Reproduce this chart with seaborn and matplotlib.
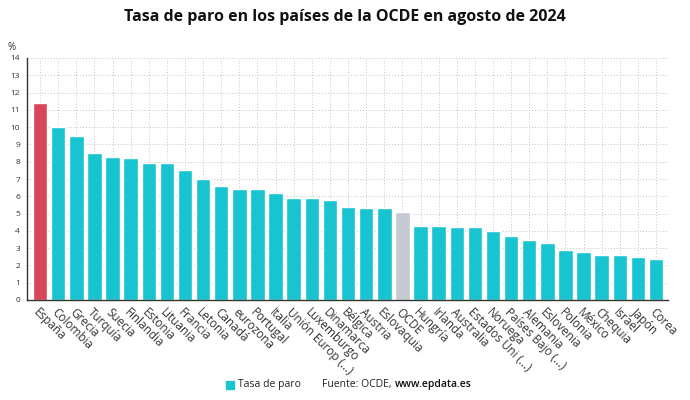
import numpy as np
import pandas as pd
import matplotlib
matplotlib.use("Agg")
import matplotlib.pyplot as plt
import seaborn as sns

# Datos
paises = ["España", "Colombia", "Grecia", "Turquía", "Suecia", "Finlandia", "Estonia",
          "Lituania", "Francia", "Letonia", "Canadá", "eurozona", "Portugal", "Italia",
          "Unión Europ (...)", "Luxemburgo", "Dinamarca", "Bélgica", "Austria", "Eslovaquia",
          "OCDE", "Hungría", "Irlanda", "Australia", "Estados Uni (...)", "Noruega",
          "Países Bajo (...)", "Alemania", "Eslovenia", "Polonia", "México", "Chequia",
          "Israel", "Japón", "Corea"]
tasa = [11.4, 10.0, 9.5, 8.5, 8.3, 8.2, 7.9,
        7.9, 7.5, 7.0, 6.6, 6.4, 6.4, 6.2,
        5.9, 5.9, 5.8, 5.4, 5.3, 5.3,
        5.1, 4.3, 4.3, 4.2, 4.2, 4.0,
        3.7, 3.5, 3.3, 2.9, 2.8, 2.6,
        2.6, 2.5, 2.4]

teal = "#17C4CF"
colores = {p: teal for p in paises}
colores["España"] = "#D9465A"
colores["OCDE"] = "#C4CAD2"

df = pd.DataFrame({"pais": paises, "tasa": tasa})

sns.set_style("white")
plt.rcParams["font.family"] = ["Open Sans", "DejaVu Sans"]

fig = plt.figure(figsize=(6.9, 4.0), dpi=100)
ax = fig.add_axes([27 / 690, 100 / 400, 641 / 690, 242 / 400])

sns.barplot(data=df, x="pais", y="tasa", hue="pais", palette=colores,
            width=0.8, saturation=1, legend=False, ax=ax, zorder=2)

ax.set_ylim(0, 14)
ax.set_xlim(-0.72, len(paises) - 0.34)
ax.set_yticks(range(0, 15))
ax.grid(True, axis="both", linestyle=(0, (1, 2)), color="#C4C4C4", linewidth=0.7, zorder=0)
ax.set_axisbelow(True)

for s in ["top", "right"]:
    ax.spines[s].set_visible(False)
ax.spines["left"].set_color("#333333")
ax.spines["bottom"].set_color("#333333")
ax.spines["left"].set_linewidth(1.0)
ax.spines["bottom"].set_linewidth(1.0)

ax.tick_params(axis="y", labelsize=6, colors="#333333", length=3, width=0.8, pad=2)
ax.tick_params(axis="x", labelsize=8.5, colors="#333333", length=2, width=0.6, pad=2)
ax.set_xticks(range(len(paises)))
ax.set_xticklabels(paises, rotation=-45, ha="left", va="top", rotation_mode="anchor")
ax.set_xlabel("")
ax.set_ylabel("")

fig.text(8 / 690, 1 - 47 / 400, "%", fontsize=7, color="#333333", va="center")
fig.suptitle("Tasa de paro en los países de la OCDE en agosto de 2024",
             x=0.5, y=1 - 17 / 400, va="center", fontsize=11.5, fontweight="bold",
             color="#111111")

# Leyenda inferior
fig.patches.append(plt.Rectangle((226 / 690, 1 - 389 / 400), 8 / 690, 8 / 400,
                                 transform=fig.transFigure, color=teal))
fig.text(238 / 690, 1 - 385 / 400, "Tasa de paro", fontsize=7.5, va="center", color="#222222")
fig.text(322 / 690, 1 - 385 / 400, "Fuente: OCDE,", fontsize=7.5, va="center", color="#222222")
fig.text(395 / 690, 1 - 385 / 400, "www.epdata.es", fontsize=7.5, va="center",
         color="#111111", fontweight="semibold")

fig.savefig("out.png", dpi=100)
